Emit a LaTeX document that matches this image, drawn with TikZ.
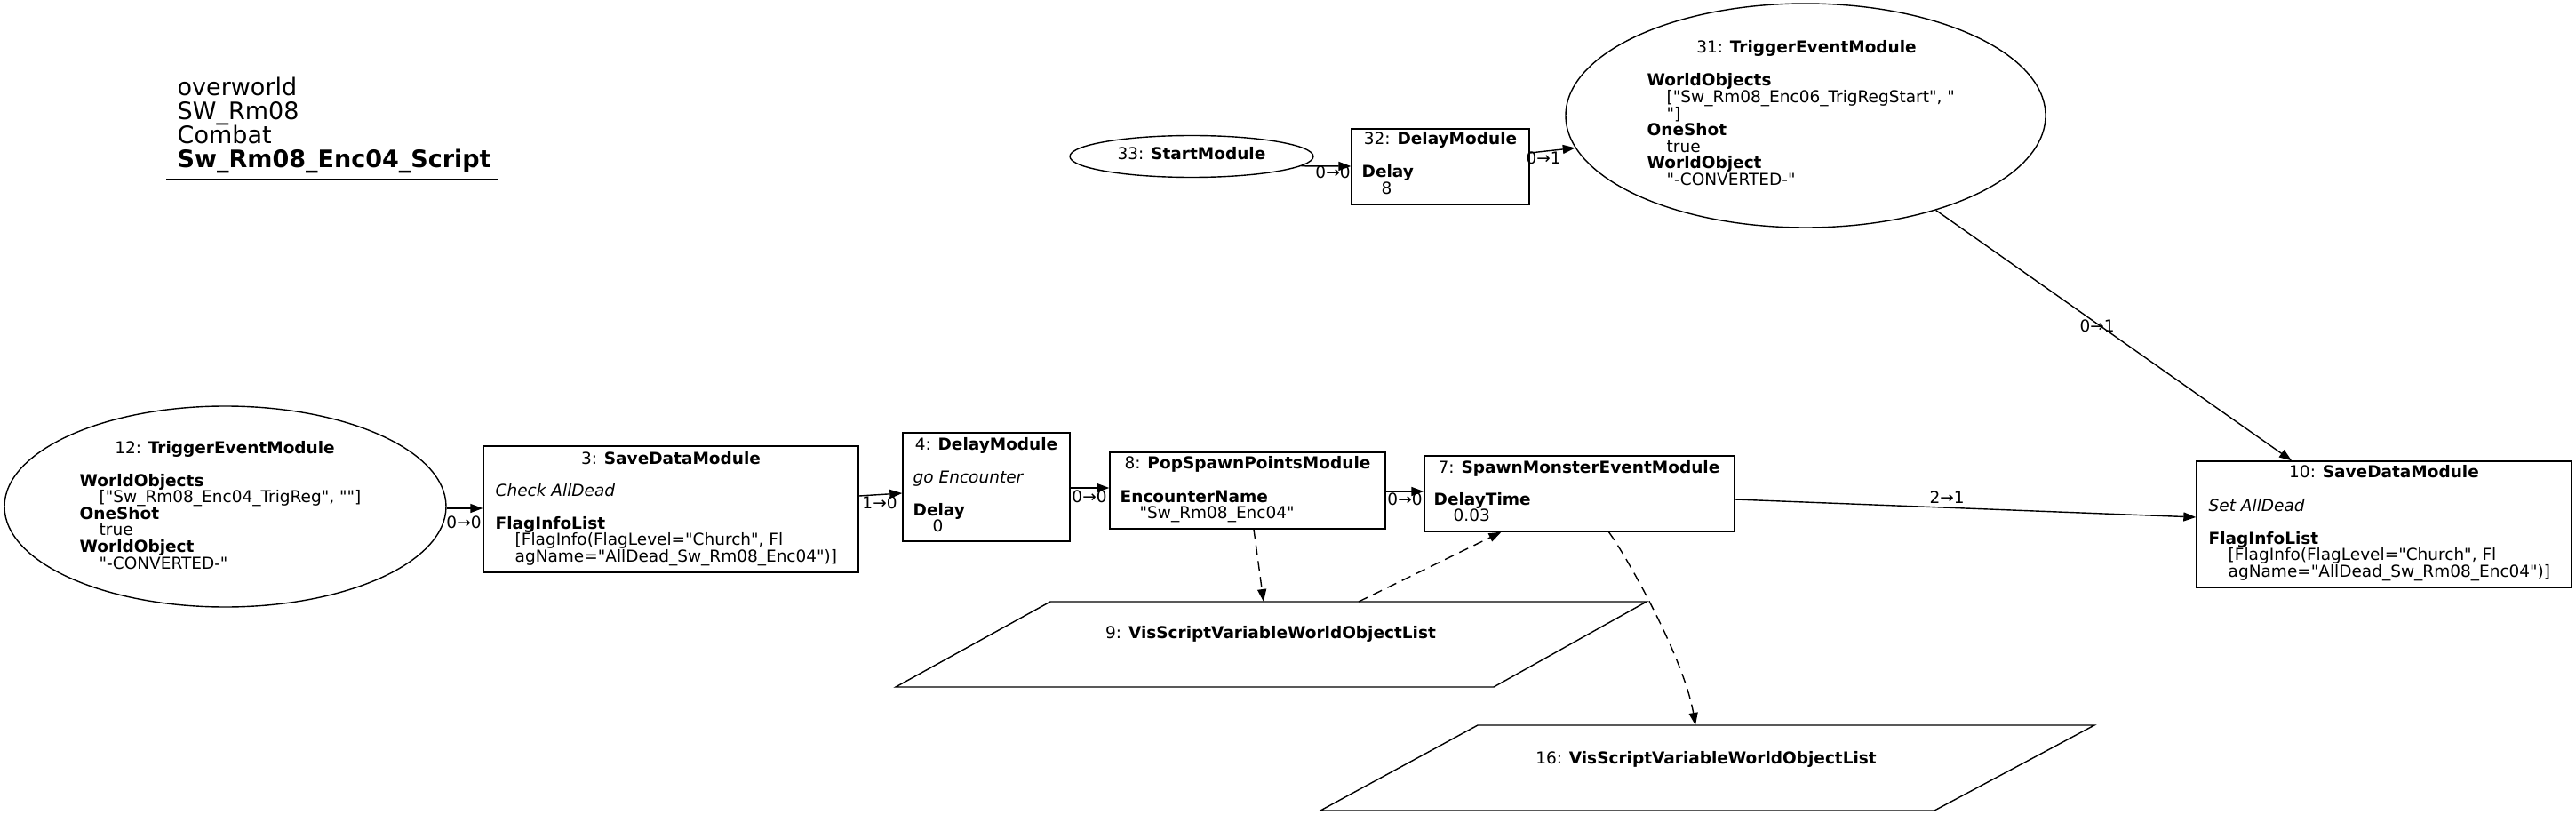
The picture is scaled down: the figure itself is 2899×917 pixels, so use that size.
\documentclass[tikz,border=0pt]{standalone}
\usepackage{fontspec}
\setmainfont{DejaVu Sans}[Ligatures=TeXOff]
\usetikzlibrary{shapes.geometric,arrows.meta,calc}
\newcommand\bodyfont{\fontsize{18.5}{18.6}\selectfont\lineskiplimit=-100pt\relax}
\newcommand\hdrfont{\fontsize{27}{26.7}\selectfont\lineskiplimit=-100pt\relax}
\newcommand\ind{\hspace*{22pt}}
\begin{document}
\begin{tikzpicture}[x=1pt,y=-1pt,line width=1.4pt,
  mbox/.style={draw,rectangle,inner sep=0},
  mell/.style={draw,ellipse,inner sep=0},
  ttl/.style={inner sep=0,anchor=base,font=\bodyfont},
  bdy/.style={inner sep=0,anchor=base west,font=\bodyfont},
  lbl/.style={inner sep=0,anchor=base,font=\bodyfont},
  conn/.style={-{Triangle[length=14pt,width=10pt]}},
  dconn/.style={conn,dash pattern=on 11pt off 7pt},
]
\fill[white] (0,0) rectangle (2899,917);
\useasboundingbox (0,0) rectangle (2899,917);

% header
\node[anchor=base west,inner sep=0,font=\hdrfont] (hdr) at (199,108)
  {\vtop{\hbox{overworld}\hbox{SW\_Rm08}\hbox{Combat}\hbox{\textbf{Sw\_Rm08\_Enc04\_Script}}}};
\draw (187,202) -- (561,202);

% node 12
\node[mell,minimum width=497,minimum height=226] (n12) at (253.5,570) {};
\node[ttl] (n12t) at (253,510) {12: \textbf{TriggerEventModule}};
\node[bdy] (n12b) at (89,547) {\vtop{\hbox{\textbf{WorldObjects}}\hbox{\ind["Sw\_Rm08\_Enc04\_TrigReg", ""]}\hbox{\textbf{OneShot}}\hbox{\ind true}\hbox{\textbf{WorldObject}}\hbox{\ind"-CONVERTED-"}}};

% node 3
\node[mbox,minimum width=422,minimum height=142] (n3) at (755,573) {};
\node[ttl] (n3t) at (755,522) {3: \textbf{SaveDataModule}};
\node[bdy] (n3b) at (557,558) {\vtop{\hbox{\textit{Check AllDead}}\hbox{}\hbox{\textbf{FlagInfoList}}\hbox{\ind[FlagInfo(FlagLevel="Church", Fl}\hbox{\ind agName="AllDead\_Sw\_Rm08\_Enc04")]}}};

% node 4
\node[mbox,minimum width=188,minimum height=122] (n4) at (1110,548) {};
\node[ttl] (n4t) at (1110,506) {4: \textbf{DelayModule}};
\node[bdy] (n4b) at (1027,543) {\vtop{\hbox{\textit{go Encounter}}\hbox{}\hbox{\textbf{Delay}}\hbox{\ind 0}}};

% node 8
\node[mbox,minimum width=310,minimum height=86] (n8) at (1404,552) {};
\node[ttl] (n8t) at (1404,527) {8: \textbf{PopSpawnPointsModule}};
\node[bdy] (n8b) at (1260,565) {\vtop{\hbox{\textbf{EncounterName}}\hbox{\ind"Sw\_Rm08\_Enc04"}}};

% node 7
\node[mbox,minimum width=349,minimum height=85] (n7) at (1777.5,555.5) {};
\node[ttl] (n7t) at (1777,532) {7: \textbf{SpawnMonsterEventModule}};
\node[bdy] (n7b) at (1613,568) {\vtop{\hbox{\textbf{DelayTime}}\hbox{\ind 0.03}}};

% node 10
\node[mbox,minimum width=422,minimum height=142] (n10) at (2683,590) {};
\node[ttl] (n10t) at (2683,537) {10: \textbf{SaveDataModule}};
\node[bdy] (n10b) at (2485,575) {\vtop{\hbox{\textit{Set AllDead}}\hbox{}\hbox{\textbf{FlagInfoList}}\hbox{\ind[FlagInfo(FlagLevel="Church", Fl}\hbox{\ind agName="AllDead\_Sw\_Rm08\_Enc04")]}}};

% node 32
\node[mbox,minimum width=200,minimum height=85] (n32) at (1621,187.5) {};
\node[ttl] (n32t) at (1621,163) {32: \textbf{DelayModule}};
\node[bdy] (n32b) at (1532,200) {\vtop{\hbox{\textbf{Delay}}\hbox{\ind 8}}};

% node 33
\node[mell,minimum width=274,minimum height=47] (n33) at (1341,176) {};
\node[ttl] (n33t) at (1341,180) {33: \textbf{StartModule}};

% node 31
\node[mell,minimum width=540,minimum height=252] (n31) at (2032,130) {};
\node[ttl] (n31t) at (2033,60) {31: \textbf{TriggerEventModule}};
\node[bdy] (n31b) at (1853,97) {\vtop{\hbox{\textbf{WorldObjects}}\hbox{\ind["Sw\_Rm08\_Enc06\_TrigRegStart", "}\hbox{\ind"]}\hbox{\textbf{OneShot}}\hbox{\ind true}\hbox{\textbf{WorldObject}}\hbox{\ind"-CONVERTED-"}}};

% node 9 (parallelogram)
\draw (1182,677) -- (1853,677) -- (1681,773) -- (1008,773) -- cycle;
\node[ttl] (n9) at (1430,718) {9: \textbf{VisScriptVariableWorldObjectList}};
\coordinate (p9in) at (1422,677);
\coordinate (p9out) at (1529,677);

% node 16 (parallelogram)
\draw (1663,816) -- (2357,816) -- (2177,912) -- (1486,912) -- cycle;
\node[ttl] (n16) at (1920,859) {16: \textbf{VisScriptVariableWorldObjectList}};
\coordinate (p16in) at (1908,816);

% connectors
\draw[conn] ($(n12.east)+(0,2)$) -- ($(n3.west)+(0,-1)$);
\draw[conn] ($(n3.east)+(0,-15)$) -- ($(n4.west)+(0,7)$);
\draw[conn] ($(n4.east)+(0,1)$) -- ($(n8.west)+(0,-3)$);
\draw[conn] ($(n8.east)+(0,1)$) -- ($(n7.west)+(0,-2.5)$);
\draw[conn] ($(n7.east)+(0,6.5)$) -- ($(n10.west)+(0,-8)$);
\draw[conn] (n31.-36) -- ($(n10.north)+(-104,0)$);
\draw[conn] (n33.-5) -- ($(n32.west)+(0,-0.5)$);
\draw[conn] ($(n32.east)+(0,-15.5)$) -- (n31.188);
\draw[dconn] ($(n8.south)+(7,0)$) -- (p9in);
\draw[dconn] (p9out) -- ($(n7.south)+(-88,0)$);
\draw[dconn] ($(n7.south)+(33,0)$) .. controls (1830,625) and (1895,740) .. (p16in);

% connector labels
\node[lbl] (l1) at (522,594) {0→0};
\node[lbl] (l2) at (990,572) {1→0};
\node[lbl] (l3) at (1226,565) {0→0};
\node[lbl] (l4) at (1581,568) {0→0};
\node[lbl] (l5) at (2191,566) {2→1};
\node[lbl] (l6) at (2360,373) {0→1};
\node[lbl] (l7) at (1500,201) {0→0};
\node[lbl] (l8) at (1737,185) {0→1};
\end{tikzpicture}
\end{document}
